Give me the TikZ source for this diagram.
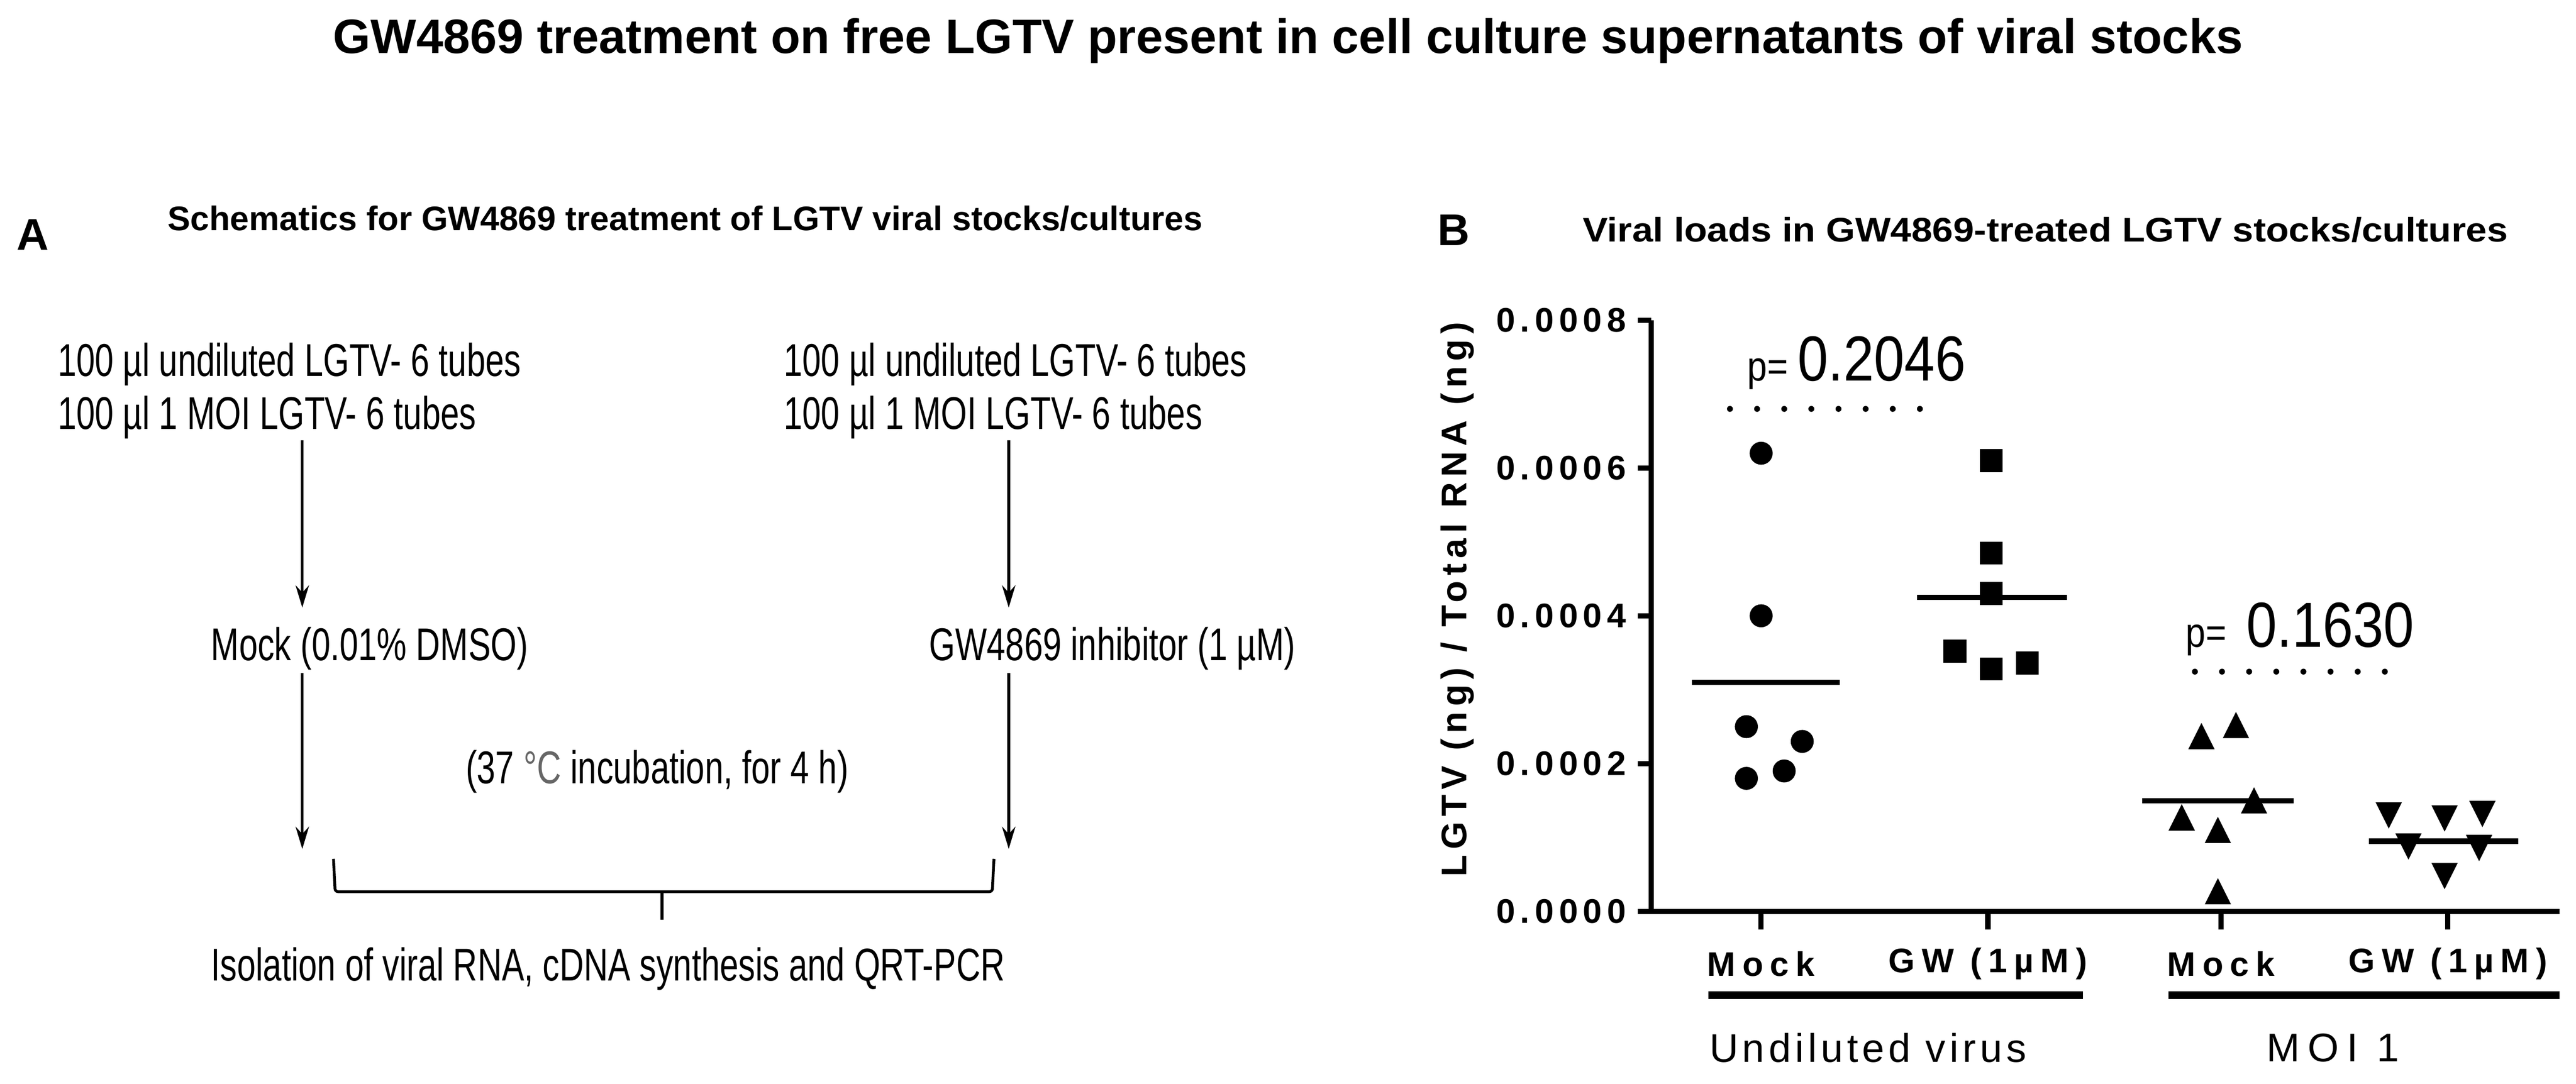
\documentclass[tikz,border=0pt]{standalone}
\usepackage{fontspec}
\setmainfont{Liberation Sans}
\usetikzlibrary{arrows.meta}
\begin{document}
\begin{tikzpicture}[x=0.03894cm,y=-0.03894cm,
  txt/.style={inner sep=0pt,font=\fontsize{31}{36}\selectfont,xscale=0.73},
  sub/.style={inner sep=0pt,font=\bfseries\fontsize{23}{27}\selectfont},
  tick/.style={inner sep=0pt,font=\bfseries\fontsize{23}{26}\selectfont\addfontfeature{LetterSpace=15}},
  arr/.style={line width=1.9pt,-{Stealth[length=15pt,width=9pt]}},
  ax/.style={line width=3.5pt},
  mk/.style={fill=black,draw=none},
  mean/.style={line width=3.5pt},
  dots/.style={line width=4pt,line cap=round,dash pattern=on 0pt off 18.3pt}]
\useasboundingbox (0,0) rectangle (1568,660);
\node[inner sep=0pt,font=\bfseries\fontsize{32.6}{38}\selectfont] (title) at (784,25) {GW4869 treatment on free LGTV present in cell culture supernatants of viral stocks};
% Panel A
\node[inner sep=0pt,font=\bfseries\fontsize{30}{34}\selectfont] (A) at (20,143) {A};
\node[sub] (subA) at (417,133) {Schematics for GW4869 treatment of LGTV viral stocks/cultures};
\node[txt,anchor=west] (l1) at (35,222) {100 µl undiluted LGTV- 6 tubes};
\node[txt,anchor=west] (l2) at (35,254) {100 µl 1 MOI LGTV- 6 tubes};
\node[txt,anchor=west] (r1) at (477,222) {100 µl undiluted LGTV- 6 tubes};
\node[txt,anchor=west] (r2) at (477,254) {100 µl 1 MOI LGTV- 6 tubes};
\node[txt] (mock) at (225,395) {Mock (0.01\% DMSO)};
\node[txt] (gw) at (677,395) {GW4869 inhibitor (1 µM)};
\node[txt] (inc) at (400,470) {(37 {\color[gray]{0.4}°C} incubation, for 4 h)};
\node[txt] (iso) at (370,590) {Isolation of viral RNA, cDNA synthesis and QRT-PCR};
\coordinate (la) at (184,268); \coordinate (lb) at (184,370);
\coordinate (lc) at (184,410); \coordinate (ld) at (184,517);
\coordinate (ra) at (614,268); \coordinate (rb) at (614,370);
\coordinate (rc) at (614,410); \coordinate (rd) at (614,517);
\draw[arr] (la) -- (lb); \draw[arr] (ra) -- (rb);
\draw[arr] (lc) -- (ld); \draw[arr] (rc) -- (rd);
\coordinate (b1) at (203,523); \coordinate (b2) at (605,523); \coordinate (bt) at (403,560);
\draw[line width=1.9pt,rounded corners=2pt] (b1) -- (204,543) -- (604,543) -- (b2);
\draw[line width=1.9pt] (403,543) -- (bt);
% Panel B
\node[inner sep=0pt,font=\bfseries\fontsize{30}{34}\selectfont] (B) at (885,140) {B};
\node[sub,xscale=1.1] (subB) at (1245,140) {Viral loads in GW4869-treated LGTV stocks/cultures};
\coordinate (o) at (1005,555); \coordinate (yt) at (1005,195); \coordinate (xe) at (1558,555);
\draw[ax] (yt) -- (o) -- (xe);
\foreach \y/\l in {195/0.0008,285/0.0006,375/0.0004,465/0.0002,555/0.0000}{
  \draw[ax] (997,\y) -- (1005,\y);
  \node[tick,anchor=east] at (990,\y) {\l};}
\foreach \x in {1072,1210,1352,1490}{\draw[ax] (\x,555) -- (\x,566);}
\node[tick,font=\bfseries\fontsize{24}{26}\selectfont\addfontfeature{LetterSpace=15}] (ylab) at (887,365) [rotate=90] {LGTV (ng) / Total RNA (ng)};
% data in units of 1e-5: y = 555 - v*4.5
\foreach \x/\v in {1072/62,1072/40,1063/25,1097/23,1063/18,1086/19}
  \fill[mk] (\x,{555-\v*4.5}) circle (7);
\draw[mean] (1030,{555-31*4.5}) -- (1120,{555-31*4.5});
\foreach \x/\v in {1212/61,1212/48.5,1212/43,1190/35.2,1212/32.8,1234/33.6}
  \fill[mk] ({\x-7},{555-\v*4.5-7}) rectangle ({\x+7},{555-\v*4.5+7});
\draw[mean] (1167,{555-42.5*4.5}) -- (1258,{555-42.5*4.5});
\foreach \x/\v in {1340/23.5,1361/25,1328/12.5,1350/10.8,1372/14.8,1350/2.5}
  \fill[mk] ({\x-8},{555-\v*4.5+7}) -- ({\x+8},{555-\v*4.5+7}) -- (\x,{555-\v*4.5-9}) -- cycle;
\draw[mean] (1304,{555-15*4.5}) -- (1396,{555-15*4.5});
\foreach \x/\v in {1454/13.2,1466/9,1488/12.8,1511/13.4,1509/8.8,1488/5}
  \fill[mk] ({\x-8},{555-\v*4.5-7}) -- ({\x+8},{555-\v*4.5-7}) -- (\x,{555-\v*4.5+9}) -- cycle;
\draw[mean] (1442,{555-9.5*4.5}) -- (1533,{555-9.5*4.5});
\coordinate (d1a) at (1053,249); \coordinate (d1b) at (1185,249);
\coordinate (d2a) at (1336,409); \coordinate (d2b) at (1468,409);
\draw[dots] (d1a) -- (d1b);
\draw[dots] (d2a) -- (d2b);
\node[inner sep=0pt,anchor=base,xscale=0.86] (p1) at (1130,232) {\fontsize{28}{32}\selectfont p= \fontsize{43}{48}\selectfont 0.2046};
\node[inner sep=0pt,anchor=base,xscale=0.86] (p2) at (1400,394) {\fontsize{28}{32}\selectfont p= \ \fontsize{43}{48}\selectfont 0.1630};
\foreach \x/\l in {1072/Mock,1210/GW (1µM),1352/Mock,1490/GW (1µM)}
  \node[tick,font=\bfseries\fontsize{23}{26}\selectfont\addfontfeature{LetterSpace=20}] at (\x,587) {\l};
\draw[line width=5.5pt] (1040,606) -- (1268,606);
\draw[line width=5.5pt] (1320,606) -- (1558,606);
\node[inner sep=0pt,font=\fontsize{27}{30}\selectfont\addfontfeature{LetterSpace=10}] (g1) at (1137,638) {Undiluted virus};
\node[inner sep=0pt,font=\fontsize{27}{30}\selectfont\addfontfeature{LetterSpace=20}] (g2) at (1420,638) {MOI 1};
\end{tikzpicture}
\end{document}
